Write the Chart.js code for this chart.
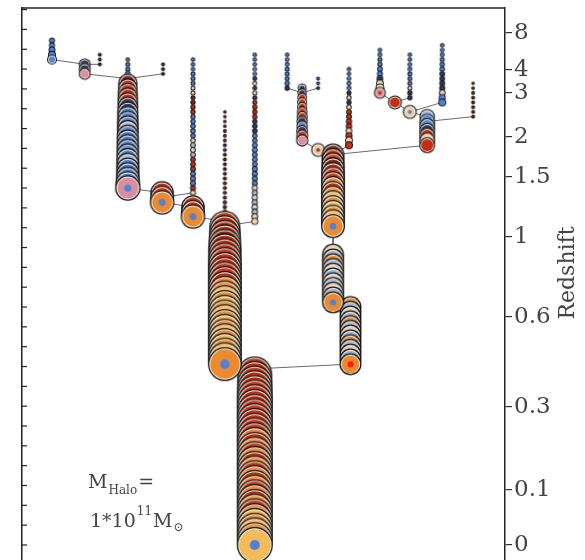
<!DOCTYPE html>
<html>
<head>
<meta charset="utf-8">
<script src="https://cdn.jsdelivr.net/npm/chart.js@4.4.1/dist/chart.umd.min.js"></script>
<style>
  html, body { margin: 0; padding: 0; background: #fff; overflow: hidden; }
  #wrap { width: 585px; height: 560px; overflow: hidden; }
</style>
</head>
<body>
<div id="wrap"><canvas id="tree" width="585" height="590"></canvas></div>
<script>
// Lookback time (Gyr) of every snapshot, index 0 = z 0
const snapGyr = [
  0.00, 0.12, 0.24, 0.36, 0.48, 0.60, 0.72, 0.84, 0.96, 1.08,
  1.20, 1.32, 1.44, 1.56, 1.68, 1.80, 1.92, 2.04, 2.16, 2.28,
  2.40, 2.52, 2.64, 2.76, 2.88, 3.00, 3.12, 3.24, 3.36, 3.48,
  3.60, 3.72, 3.84, 3.96, 4.08, 4.20, 4.32, 4.44, 4.56, 4.68,
  4.80, 4.92, 5.04, 5.16, 5.28, 5.40, 5.52, 5.64, 5.76, 5.88,
  6.00, 6.12, 6.24, 6.36, 6.48, 6.60, 6.72, 6.84, 6.96, 7.08,
  7.20, 7.32, 7.44, 7.56, 7.68, 7.80, 7.92, 8.04, 8.16, 8.28,
  8.40, 8.52, 8.64, 8.76, 8.88, 9.00, 9.12, 9.24, 9.36, 9.48,
  9.60, 9.72, 9.84, 9.96, 10.08, 10.20, 10.32, 10.44, 10.56, 10.68,
  10.80, 10.92, 11.04, 11.16, 11.28, 11.40, 11.52, 11.64, 11.76, 11.88,
  12.00, 12.12, 12.24, 12.36, 12.48, 12.60, 12.72
];

// Redshift labels of the right axis and the lookback time they sit at
const zLabels = ['0', '0.1', '0.3', '0.6', '1', '1.5', '2', '3', '4', '8'];
const zGyr = [0, 1.39, 3.48, 5.75, 7.77, 9.28, 10.29, 11.40, 11.98, 12.91];

// Tree branches: column, snapshot of the lowest node,
// log10 halo mass of each node (top to bottom), colour code of each node,
// colour code of the centre of the final node
const branchCol = [6.2, 13.0, 16.1, 21.9, 29.2, 29.0, 35.4, 35.4, 42.0, 48.2,
  48.2, 64.4, 64.4, 68.0, 67.7, 58.0, 61.3, 54.9, 61.3, 74.1,
  77.2, 80.3, 83.9, 80.3, 87.0, 93.4];
const branchEnd = [102, 99, 101, 75, 99, 72, 74, 69, 38, 68,
  0, 67, 51, 38, 84, 85, 83, 96, 96, 95,
  93, 91, 84, 94, 93, 90];
const branchLogM = [
  [8.67, 8.67, 8.87, 9.04, 9.33],
  [9.57, 9.57, 9.57],
  [8.14, 8.14, 8.14],
  [8.3, 8.43, 8.43, 8.67, 8.67,
    10.2, 10.22, 10.24, 10.26, 10.28, 10.3, 10.31, 10.32, 10.33, 10.34, 10.35, 10.36,
    10.37, 10.38, 10.39, 10.4, 10.41, 10.42, 10.43, 10.44, 10.46, 10.5, 10.55],
  [8.14, 8.14, 8.14],
  [10.45, 10.47, 10.5],
  [8.3, 8.3, 8.3, 8.43, 8.43, 8.43, 8.43, 8.43, 8.43, 8.5, 8.5, 8.5, 8.5, 8.5, 8.55,
    8.55, 8.55, 8.55, 8.6, 8.6, 8.6, 8.6, 8.6, 8.62, 8.62, 8.65, 8.65, 8.67, 8.67],
  [10.45, 10.47, 10.5],
  [8.0, 8.0, 8.05, 8.05, 8.1, 8.1, 8.1, 8.14, 8.14, 8.14, 8.14, 8.14, 8.14, 8.14,
    8.2, 8.2, 8.2, 8.2, 8.2, 8.25, 8.25, 8.25, 8.3, 8.3,
    10.8, 10.82, 10.84, 10.86, 10.88, 10.9, 10.9, 10.91, 10.92, 10.92, 10.92, 10.92,
    10.92, 10.92, 10.92, 10.92, 10.92, 10.92, 10.92, 10.92, 10.92, 10.92, 10.92, 10.92,
    10.92, 10.92, 10.92, 10.92, 10.92, 10.92],
  [8.3, 8.3, 8.3, 8.35, 8.35, 8.4, 8.4, 8.4, 8.45, 8.45, 8.45, 8.5, 8.5, 8.5, 8.5,
    8.55, 8.55, 8.55, 8.55, 8.6, 8.6, 8.6, 8.6, 8.6, 8.65, 8.65, 8.65, 8.65, 8.7, 8.7,
    8.7, 8.7, 8.75, 8.75, 8.8, 8.9],
  [10.95, 10.96, 10.97, 10.98, 10.99, 11.0, 11.0, 11.0, 11.0, 11.0, 11.0, 11.0, 11.0,
    11.0, 11.0, 11.0, 11.0, 11.0, 11.0, 11.0, 11.0, 11.0, 11.0, 11.0, 11.0, 11.0, 11.0,
    11.0, 11.0, 11.0, 11.0, 11.0, 11.0, 11.0, 11.0, 11.0, 11.0],
  [10.4, 10.42, 10.44, 10.45, 10.46, 10.47, 10.47, 10.47, 10.47, 10.47, 10.47, 10.47,
    10.47, 10.47, 10.47, 10.47],
  [10.36, 10.36, 10.36, 10.36, 10.36, 10.36, 10.36, 10.36, 10.36, 10.36, 10.36],
  [10.36, 10.36, 10.36, 10.36, 10.36, 10.36, 10.36, 10.36, 10.36, 10.36, 10.36, 10.36, 10.36],
  [8.3, 8.3, 8.35, 8.4, 8.4, 8.45, 8.5, 8.5, 8.55, 8.6, 8.65, 8.7, 8.75, 8.8, 8.9, 9.0, 9.04],
  [9.2, 9.25, 9.3, 9.33, 9.33, 9.4, 9.45, 9.5, 9.5, 9.55, 9.57, 9.6],
  [9.77],
  [8.3, 8.35, 8.4, 8.43, 8.43, 8.43, 8.5, 8.5],
  [8.14, 8.14, 8.14],
  [8.3, 8.4, 8.43, 8.5, 8.6, 8.67, 8.8, 9.0, 9.2, 9.57],
  [9.77],
  [9.77],
  [9.9, 9.92, 9.94, 9.94, 9.94, 9.94, 9.94],
  [8.3, 8.3, 8.35, 8.4, 8.43, 8.43, 8.43, 8.43, 8.5, 8.5],
  [8.3, 8.35, 8.4, 8.43, 8.5, 8.55, 8.6, 8.6, 8.65, 8.7, 8.8, 8.9, 9.04],
  [8.0, 8.05, 8.1, 8.14, 8.14, 8.14, 8.14, 8.14]
];
const branchTint = [
  'bbbbb',
  'kkp',
  'kkk',
  'bbbbb' + 'drrrrkk' + 'bbblbbbbbblbbbb' + 'p',
  'kkk',
  'rro',
  'bbbbbb' + 'ww' + 'ddrr' + 'bbbbb' + 'wlwl' + 'rrr' + 'bbb' + 'rw',
  'rro',
  'dddkdddkddddkdddddkddddd' + 'rrrrdrrrrrrrrr' + 'ooyoyoyoyoyoyoy' + 'o',
  'bbbbb' + 'kwkwk' + 'rrrr' + 'kkk' + 'bbbbbbbbbbb' + 'wlwlwlw' + 'w',
  'rrrrrrrrrrrrrrr' + 'ororororororororoyoyo' + 'y',
  'drrdrrr' + 'oroyoyo' + 'yo',
  'wlolwlwlwlo',
  'olwlolwlolwlo',
  'bbbbbkwkwrrrrwrwr',
  'kkrrdrrkbkrp',
  'w',
  'bbbbbbbk',
  'bbk',
  'bbbbbbkwwp',
  'r',
  'w',
  'lbbkrwr',
  'bbbbbbbwkk',
  'bbbbbbkkkkwbb',
  'dddddddd'
];
const branchCore = ['', '', '', 'b', '', 'b', '', 'b', 'b', '',
  'b', 'b', 'b', 'R', '', '', 'r', '', '', 'r',
  '', 'b', 'r', '', '', ''];

// Merger links: [column, snapshot] of a progenitor's last node to its descendant
const links = [
  [6.2, 102, 13.0, 101], [16.1, 101, 13.0, 101], [13.0, 99, 21.9, 98], [29.2, 99, 21.9, 98],
  [21.9, 75, 29.0, 74], [35.4, 74, 29.0, 73], [29.0, 72, 35.4, 71], [35.4, 69, 42.0, 68],
  [48.2, 68, 42.0, 67], [42.0, 38, 48.2, 37], [68.0, 38, 48.2, 37], [64.4, 67, 64.4, 61],
  [64.4, 51, 68.0, 50], [67.7, 84, 64.4, 82], [58.0, 85, 61.3, 83], [61.3, 83, 64.4, 82],
  [83.9, 84, 64.4, 82], [54.9, 96, 58.0, 95], [61.3, 96, 58.0, 95], [74.1, 95, 77.2, 93],
  [80.3, 94, 77.2, 93], [77.2, 93, 80.3, 91], [87.0, 93, 80.3, 91], [80.3, 91, 83.9, 90],
  [93.4, 90, 83.9, 89]
];

const tintColours = {
  b: '#5282d6', l: '#9cb8e4', r: '#c42e14', d: '#7a2a1c', o: '#ec8a30',
  y: '#f2bc5a', w: '#ecd2b0', p: '#d88e9c', k: '#323a60', R: '#ff1a10'
};

const serif = '"DejaVu Serif", "Liberation Serif", serif';
const yMin = -1.135;
const yMax = 13.54;

// halo mass -> marker radius in px (1e11 Msun gives 18 px)
function massToRadius(logM) {
  return 18 * Math.pow(10, (logM - 11) / 3);
}

// ringed disc used as point style, cached by size and colours
const markerCache = {};
function marker(r, fill, core) {
  const key = r.toFixed(2) + fill + core;
  if (markerCache[key]) return markerCache[key];
  const size = Math.ceil(2 * r + 2);
  const c = document.createElement('canvas');
  c.width = size;
  c.height = size;
  const g = c.getContext('2d');
  const m = size / 2;
  const disc = (rad, col) => {
    if (rad <= 0) return;
    g.beginPath();
    g.arc(m, m, rad, 0, Math.PI * 2);
    g.fillStyle = col;
    g.fill();
  };
  disc(r, '#141414');
  if (r < 4) {
    disc(r - 0.9, fill);
  } else if (r < 8) {
    disc(r - 1.1, '#f8f0e2');
    disc(r - 1.9, fill);
  } else {
    disc(r - 1.3, '#f8f0e2');
    disc(r - 2.3, fill);
  }
  if (core) disc(Math.max(1.6, r * 0.28), core);
  markerCache[key] = c;
  return c;
}

const branchSets = branchCol.map((col, i) => {
  const masses = branchLogM[i];
  const top = branchEnd[i] + masses.length - 1;
  const pts = masses.map((m, j) => ({
    x: col,
    y: snapGyr[top - j],
    m: m,
    tint: branchTint[i][j],
    last: j === masses.length - 1
  }));
  return {
    type: 'scatter',
    data: pts,
    order: 1,
    pointRadius: c => (c.raw ? massToRadius(c.raw.m) : 3),
    pointStyle: c => {
      if (!c.raw) return 'circle';
      const core = c.raw.last && branchCore[i] ? tintColours[branchCore[i]] : '';
      return marker(massToRadius(c.raw.m), tintColours[c.raw.tint], core);
    }
  };
});

const linkSets = links.map(([x1, s1, x2, s2]) => ({
  type: 'line',
  data: [{ x: x1, y: snapGyr[s1] }, { x: x2, y: snapGyr[s2] }],
  borderColor: '#6b6b6b',
  borderWidth: 1,
  pointRadius: 0,
  order: 2
}));

// frame top, inward minor ticks, axis title and the halo mass note
const decorations = {
  id: 'decorations',
  afterDraw(chart) {
    const { ctx, chartArea: a, scales } = chart;
    ctx.save();
    ctx.strokeStyle = '#222';
    ctx.lineWidth = 1.5;
    ctx.beginPath();
    ctx.moveTo(a.left, a.top);
    ctx.lineTo(a.right, a.top);
    ctx.stroke();

    ctx.lineWidth = 1.2;
    for (let t = 0; t <= 13.5; t += 0.5) {
      const y = scales.y.getPixelForValue(t);
      ctx.beginPath();
      ctx.moveTo(a.left, y);
      ctx.lineTo(a.left + 5, y);
      ctx.stroke();
    }

    ctx.fillStyle = '#444';
    ctx.save();
    ctx.translate(568, 273);
    ctx.rotate(-Math.PI / 2);
    ctx.textAlign = 'center';
    ctx.textBaseline = 'middle';
    ctx.font = '22px ' + serif;
    ctx.fillText('Redshift', 0, 0);
    ctx.restore();

    ctx.textBaseline = 'alphabetic';
    ctx.textAlign = 'left';
    const big = '19px ' + serif;
    const small = '12px ' + serif;
    let x = 88;
    ctx.font = big;
    ctx.fillText('M', x, 488);
    x += ctx.measureText('M').width + 1;
    ctx.font = small;
    ctx.fillText('Halo', x, 494);
    x += ctx.measureText('Halo').width + 1;
    ctx.font = big;
    ctx.fillText('=', x, 488);

    x = 90;
    ctx.fillText('1*10', x, 527);
    x += ctx.measureText('1*10').width + 1;
    ctx.font = small;
    ctx.fillText('11', x, 515);
    x += ctx.measureText('11').width + 1;
    ctx.font = big;
    ctx.fillText('M', x, 527);
    x += ctx.measureText('M').width + 1;
    ctx.font = small;
    ctx.fillText('\u2299', x, 531);
    ctx.restore();
  }
};

// vertical axes keep no extra room for their end labels
function fixWidth(w) {
  return s => {
    s.width = w;
    s.paddingTop = 0;
    s.paddingBottom = 0;
  };
}

new Chart(document.getElementById('tree'), {
  type: 'scatter',
  data: { datasets: [...branchSets, ...linkSets] },
  options: {
    responsive: false,
    animation: false,
    events: [],
    layout: { autoPadding: false, padding: { top: 8, left: 0, right: 0, bottom: 0 } },
    plugins: { legend: { display: false }, tooltip: { enabled: false } },
    scales: {
      x: { type: 'linear', min: 0, max: 100, display: false },
      y: {
        type: 'linear',
        position: 'left',
        min: yMin,
        max: yMax,
        afterFit: fixWidth(22),
        ticks: { display: false },
        grid: { drawOnChartArea: false, drawTicks: false },
        border: { color: '#222', width: 1.5 }
      },
      y2: {
        type: 'linear',
        position: 'right',
        min: yMin,
        max: yMax,
        afterBuildTicks: s => { s.ticks = zGyr.map(v => ({ value: v })); },
        afterFit: fixWidth(80),
        ticks: {
          autoSkip: false,
          maxRotation: 0,
          padding: 2,
          color: '#444',
          font: { family: serif, size: 23 },
          callback: (v, i) => zLabels[i]
        },
        grid: { drawOnChartArea: false, tickLength: 7, color: '#333', lineWidth: 1.2 },
        border: { color: '#222', width: 1.5 }
      }
    }
  },
  plugins: [decorations]
});
</script>
</body>
</html>
